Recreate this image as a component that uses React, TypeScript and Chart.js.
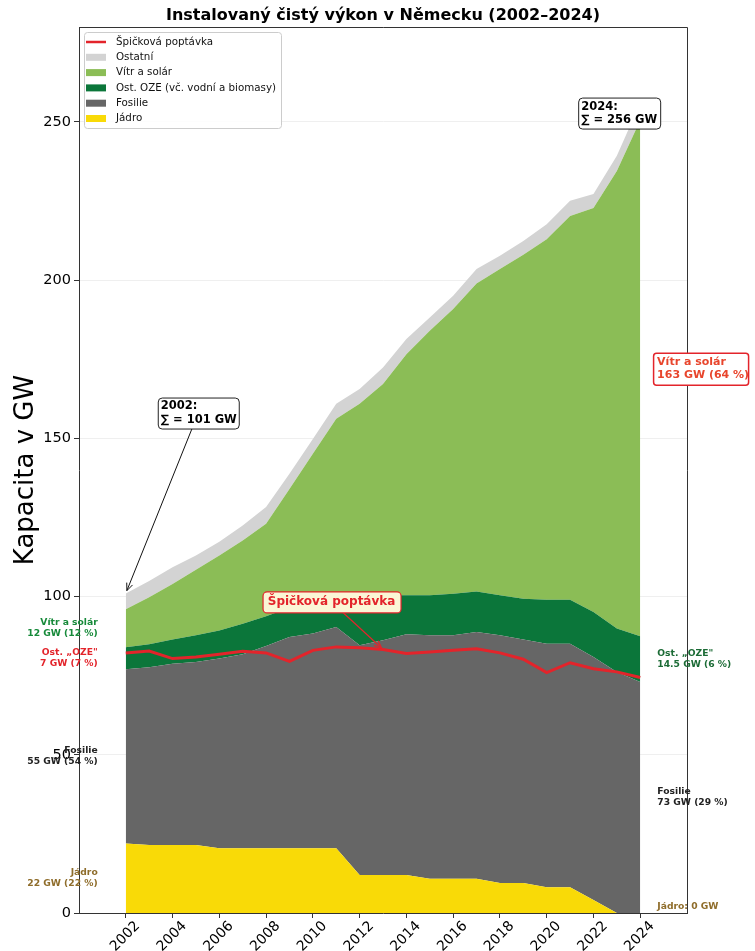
import React, { useEffect, useRef } from 'react';
import { Chart, registerables } from 'chart.js';

Chart.register(...registerables);

const years = [2002, 2003, 2004, 2005, 2006, 2007, 2008, 2009, 2010, 2011, 2012, 2013, 2014, 2015, 2016, 2017, 2018, 2019, 2020, 2021, 2022, 2023, 2024];
const nuclear = [22, 21.5, 21.5, 21.5, 20.5, 20.5, 20.5, 20.5, 20.5, 20.5, 12, 12, 12, 10.8, 10.8, 10.8, 9.5, 9.5, 8.1, 8.1, 4.1, 0, 0];
const fossil = [55, 56.2, 57.3, 57.8, 59.9, 61.3, 63.9, 66.7, 67.8, 69.9, 72.6, 74.2, 76.1, 77.0, 77.0, 78.0, 78.3, 76.9, 77.0, 77.0, 76.8, 76.2, 73];
const otherRE = [7, 7.2, 7.6, 8.5, 8.9, 9.6, 9.4, 9.3, 9.7, 9.5, 14.9, 14.2, 12.3, 12.6, 13.1, 12.8, 12.6, 12.9, 13.9, 13.9, 14.2, 13.7, 14.5];
const windSolar = [12, 14.9, 17.6, 20.7, 23.7, 26.3, 29.2, 37.5, 47.1, 56.3, 61.4, 66.8, 76.2, 83.6, 90.0, 97.3, 103.1, 108.7, 113.9, 121.3, 127.7, 144.6, 163];
const otherSources = [5, 5.1, 5.3, 4.5, 4.3, 4.8, 5.3, 4.8, 4.7, 4.7, 4.7, 5.2, 4.8, 4.2, 4.2, 4.6, 4.2, 4.4, 4.8, 4.8, 4.4, 4.8, 5.5];
const peakDemand = [82.2, 82.8, 80.4, 80.9, 81.8, 82.7, 82.2, 79.5, 83.0, 84.1, 83.8, 83.3, 82.0, 82.5, 83.0, 83.5, 82.2, 80.2, 76.0, 79.1, 77.2, 76.2, 74.4];
const xTicks = [2002, 2004, 2006, 2008, 2010, 2012, 2014, 2016, 2018, 2020, 2022, 2024];
const yTicks = [0, 50, 100, 150, 200, 250];

const FONT = '"DejaVu Sans", Verdana, sans-serif';

const C_NUC = '#f9da07';
const C_FOS = '#666666';
const C_ORE = '#0b763a';
const C_WS = '#8bbd56';
const C_OTH = '#d3d3d3';
const C_RED = '#e3242b';

const toPts = (arr: number[]) => years.map((yr, i) => ({ x: yr, y: arr[i] }));

function rrect(ctx: CanvasRenderingContext2D, x: number, y: number, w: number, h: number, r: number) {
  ctx.beginPath();
  ctx.moveTo(x + r, y);
  ctx.lineTo(x + w - r, y);
  ctx.arcTo(x + w, y, x + w, y + r, r);
  ctx.lineTo(x + w, y + h - r);
  ctx.arcTo(x + w, y + h, x + w - r, y + h, r);
  ctx.lineTo(x + r, y + h);
  ctx.arcTo(x, y + h, x, y + h - r, r);
  ctx.lineTo(x, y + r);
  ctx.arcTo(x, y, x + r, y, r);
  ctx.closePath();
}

function arrow(ctx: CanvasRenderingContext2D, x0: number, y0: number, x1: number, y1: number, color: string, lw: number) {
  ctx.save();
  ctx.strokeStyle = color;
  ctx.lineWidth = lw;
  ctx.beginPath();
  ctx.moveTo(x0, y0);
  ctx.lineTo(x1, y1);
  ctx.stroke();
  const a = Math.atan2(y1 - y0, x1 - x0);
  const hl = 8;
  ctx.beginPath();
  ctx.moveTo(x1 - hl * Math.cos(a - 0.4), y1 - hl * Math.sin(a - 0.4));
  ctx.lineTo(x1, y1);
  ctx.lineTo(x1 - hl * Math.cos(a + 0.4), y1 - hl * Math.sin(a + 0.4));
  ctx.stroke();
  ctx.restore();
}

function boxEdge(cx: number, cy: number, hw: number, hh: number, tx: number, ty: number) {
  const dx = tx - cx;
  const dy = ty - cy;
  const t = Math.min(dx !== 0 ? hw / Math.abs(dx) : Infinity, dy !== 0 ? hh / Math.abs(dy) : Infinity);
  return [cx + dx * t, cy + dy * t];
}

function shorten(x0: number, y0: number, x1: number, y1: number, d: number) {
  const L = Math.hypot(x1 - x0, y1 - y0);
  return [x1 - ((x1 - x0) / L) * d, y1 - ((y1 - y0) / L) * d];
}

const annotPlugin = {
  id: 'annot',
  afterDraw(chart: any) {
    const { ctx, chartArea } = chart;
    const xs = chart.scales.x;
    const ys = chart.scales.y;
    const X = (v: number) => xs.getPixelForValue(v);
    const Y = (v: number) => ys.getPixelForValue(v);
    const n = years.length - 1;
    ctx.save();

    // frame (top & right spines)
    ctx.strokeStyle = '#333';
    ctx.lineWidth = 1;
    ctx.beginPath();
    ctx.moveTo(chartArea.left, chartArea.top + 0.5);
    ctx.lineTo(chartArea.right + 0.5, chartArea.top + 0.5);
    ctx.lineTo(chartArea.right + 0.5, chartArea.bottom);
    ctx.stroke();

    // title
    ctx.fillStyle = '#000';
    ctx.textBaseline = 'middle';
    ctx.textAlign = 'center';
    ctx.font = `bold 16px ${FONT}`;
    ctx.fillText('Instalovaný čistý výkon v Německu (2002–2024)', (chartArea.left + chartArea.right) / 2, 16);

    // y axis title
    ctx.save();
    ctx.translate(26, (chartArea.top + chartArea.bottom) / 2);
    ctx.rotate(-Math.PI / 2);
    ctx.font = `26px ${FONT}`;
    ctx.fillText('Kapacita v GW', 0, 0);
    ctx.restore();

    // legend
    const lx = chartArea.left + 5;
    const ly = chartArea.top + 5;
    ctx.fillStyle = 'rgba(255,255,255,0.85)';
    rrect(ctx, lx + 0.5, ly + 0.5, 197, 96, 3);
    ctx.fill();
    ctx.strokeStyle = '#cccccc';
    ctx.lineWidth = 1;
    ctx.stroke();
    const items: [string, string, boolean][] = [
      ['Špičková poptávka', C_RED, true],
      ['Ostatní', C_OTH, false],
      ['Vítr a solár', C_WS, false],
      ['Ost. OZE (vč. vodní a biomasy)', C_ORE, false],
      ['Fosilie', C_FOS, false],
      ['Jádro', C_NUC, false],
    ];
    ctx.font = `10.3px ${FONT}`;
    ctx.textAlign = 'left';
    items.forEach(([label, color, isLine], i) => {
      const yy = ly + 10 + i * 15.3;
      if (isLine) {
        ctx.strokeStyle = color;
        ctx.lineWidth = 2.5;
        ctx.beginPath();
        ctx.moveTo(lx + 2, yy);
        ctx.lineTo(lx + 22, yy);
        ctx.stroke();
      } else {
        ctx.fillStyle = color;
        ctx.fillRect(lx + 2, yy - 3.5, 20, 7);
      }
      ctx.fillStyle = '#111';
      ctx.fillText(label, lx + 32, yy);
    });

    // left labels (2002)
    ctx.font = `bold 9.2px ${FONT}`;
    ctx.textAlign = 'right';
    const lxl = X(2000.8);
    const two = (l1: string, l2: string, x: number, y: number, color: string) => {
      ctx.fillStyle = color;
      ctx.fillText(l1, x, y - 5.5);
      ctx.fillText(l2, x, y + 5.5);
    };
    const c0n = nuclear[0], c0f = fossil[0], c0o = otherRE[0], c0w = windSolar[0];
    two('Vítr a solár', '12 GW (12 %)', lxl, Y(c0n + c0f + c0o + c0w / 2), '#178a3a');
    two('Ost. „OZE"', '7 GW (7 %)', lxl, Y(c0n + c0f + c0o / 2), C_RED);
    two('Fosilie', '55 GW (54 %)', lxl, Y(c0n + c0f / 2), '#222222');
    two('Jádro', '22 GW (22 %)', lxl, Y(c0n / 2), '#8f6d2b');

    // right labels (2024)
    ctx.textAlign = 'left';
    const rxl = X(2024.73);
    const cnn = nuclear[n], cnf = fossil[n], cno = otherRE[n];
    two('Ost. „OZE"', '14.5 GW (6 %)', rxl, Y(cnn + cnf + cno / 2), '#1b6b35');
    two('Fosilie', '73 GW (29 %)', rxl, Y(cnn + cnf / 2), '#222222');
    ctx.fillStyle = '#8f6d2b';
    ctx.fillText('Jádro: 0 GW', rxl, Y(0) - 6);

    // wind/solar boxed label on right
    {
      const bx = X(2024.55);
      const cy = Y(172);
      const bw = 95, bh = 32;
      ctx.fillStyle = '#ffffff';
      rrect(ctx, bx + 0.5, cy - bh / 2 + 0.5, bw, bh, 3);
      ctx.fill();
      ctx.strokeStyle = C_RED;
      ctx.lineWidth = 1.5;
      ctx.stroke();
      ctx.fillStyle = '#e8452c';
      ctx.font = `bold 11px ${FONT}`;
      ctx.fillText('Vítr a solár', bx + 4, cy - 6.5);
      ctx.fillText('163 GW (64 %)', bx + 4, cy + 6.5);
    }

    // 2002 sum box with arrow
    const total = (i: number) => nuclear[i] + fossil[i] + otherRE[i] + windSolar[i] + otherSources[i];
    {
      const cx = X(2005.1), cy = Y(158);
      const bw = 81, bh = 31;
      const tx = X(2002), ty = Y(total(0));
      const [sx, sy] = boxEdge(cx, cy, bw / 2, bh / 2, tx, ty);
      const [ex, ey] = shorten(sx, sy, tx, ty, 3);
      arrow(ctx, sx, sy, ex, ey, '#111', 1);
      ctx.fillStyle = '#ffffff';
      rrect(ctx, cx - bw / 2 + 0.5, cy - bh / 2 + 0.5, bw, bh, 4);
      ctx.fill();
      ctx.strokeStyle = '#222';
      ctx.lineWidth = 1;
      ctx.stroke();
      ctx.fillStyle = '#000';
      ctx.font = `bold 11.5px ${FONT}`;
      ctx.textAlign = 'left';
      ctx.fillText('2002:', cx - bw / 2 + 3, cy - 7);
      ctx.fillText('∑ = 101 GW', cx - bw / 2 + 3, cy + 7);
    }

    // 2024 sum box
    {
      const cx = X(2023.1), cy = Y(252.8);
      const bw = 82, bh = 31;
      ctx.fillStyle = '#ffffff';
      rrect(ctx, cx - bw / 2 + 0.5, cy - bh / 2 + 0.5, bw, bh, 4);
      ctx.fill();
      ctx.strokeStyle = '#222';
      ctx.lineWidth = 1;
      ctx.stroke();
      ctx.fillStyle = '#000';
      ctx.font = `bold 11.5px ${FONT}`;
      ctx.textAlign = 'left';
      ctx.fillText('2024:', cx - bw / 2 + 3, cy - 6.5);
      ctx.fillText('∑ = 256 GW', cx - bw / 2 + 3, cy + 6.5);
    }

    // peak demand annotation
    {
      const cx = X(2010.8), cy = Y(98.3);
      const bw = 138, bh = 21;
      const tx = X(2013), ty = Y(peakDemand[11]);
      const [sx, sy] = boxEdge(cx, cy, bw / 2, bh / 2, tx, ty);
      const [ex, ey] = shorten(sx, sy, tx, ty, 2);
      arrow(ctx, sx, sy, ex, ey, C_RED, 1.2);
      ctx.fillStyle = '#fbf6d6';
      rrect(ctx, cx - bw / 2 + 0.5, cy - bh / 2 + 0.5, bw, bh, 4);
      ctx.fill();
      ctx.strokeStyle = C_RED;
      ctx.lineWidth = 1.2;
      ctx.stroke();
      ctx.fillStyle = C_RED;
      ctx.font = `bold 12px ${FONT}`;
      ctx.textAlign = 'center';
      ctx.fillText('Špičková poptávka', cx, cy);
    }

    ctx.restore();
  },
};

export default function App() {
  const ref = useRef<HTMLCanvasElement | null>(null);
  useEffect(() => {
    if (!ref.current) return;
    Chart.defaults.font.family = FONT;
    const area = (label: string, data: number[], color: string, fill: any) => ({
      type: 'line' as const,
      label,
      data: toPts(data),
      backgroundColor: color,
      borderColor: 'transparent',
      borderWidth: 0,
      pointRadius: 0,
      tension: 0,
      fill,
      stack: 'cap',
      order: 1,
    });
    const chart = new Chart(ref.current, {
      type: 'line',
      data: {
        datasets: [
          area('Jádro', nuclear, C_NUC, 'origin'),
          area('Fosilie', fossil, C_FOS, '-1'),
          area('Ost. OZE (vč. vodní a biomasy)', otherRE, C_ORE, '-1'),
          area('Vítr a solár', windSolar, C_WS, '-1'),
          area('Ostatní', otherSources, C_OTH, '-1'),
          {
            type: 'line',
            label: 'Špičková poptávka',
            data: toPts(peakDemand),
            borderColor: C_RED,
            backgroundColor: C_RED,
            borderWidth: 3,
            pointRadius: 0,
            tension: 0,
            fill: false,
            stack: 'demand',
            order: 0,
          },
        ] as any,
      },
      options: {
        responsive: false,
        animation: false,
        layout: { padding: { top: 27, right: 68, left: 0, bottom: 0 } },
        plugins: { legend: { display: false }, title: { display: false }, tooltip: { enabled: false } },
        scales: {
          x: {
            type: 'linear',
            min: 2000,
            max: 2026,
            afterBuildTicks: (s: any) => {
              s.ticks = xTicks.map((v) => ({ value: v }));
            },
            afterFit: (s: any) => {
              s.height = 38;
            },
            ticks: {
              autoSkip: false,
              minRotation: 45,
              maxRotation: 45,
              padding: 0,
              labelOffset: 12,
              color: '#000',
              font: { size: 14, family: FONT },
              callback: (v: any) => String(v),
            },
            grid: { drawOnChartArea: false, tickLength: 5, tickColor: '#333' },
            border: { display: true, color: '#333', width: 1 },
          },
          y: {
            type: 'linear',
            stacked: true,
            min: 0,
            max: 280,
            afterBuildTicks: (s: any) => {
              s.ticks = yTicks.map((v) => ({ value: v }));
            },
            afterFit: (s: any) => {
              s.width = 79;
            },
            ticks: {
              padding: 3,
              color: '#000',
              font: { size: 14.5, family: FONT },
              callback: (v: any) => String(v),
            },
            grid: { color: '#efefef', lineWidth: 1, tickLength: 5, tickColor: '#333' },
            border: { display: true, color: '#333', width: 1 },
          },
        },
      } as any,
      plugins: [annotPlugin],
    });
    return () => chart.destroy();
  }, []);
  return (
    <div style={{ position: 'fixed', left: 0, top: 0, width: 755, height: 951, background: '#fff' }}>
      <canvas ref={ref} width={755} height={951} style={{ display: 'block', width: 755, height: 951 }} />
    </div>
  );
}
